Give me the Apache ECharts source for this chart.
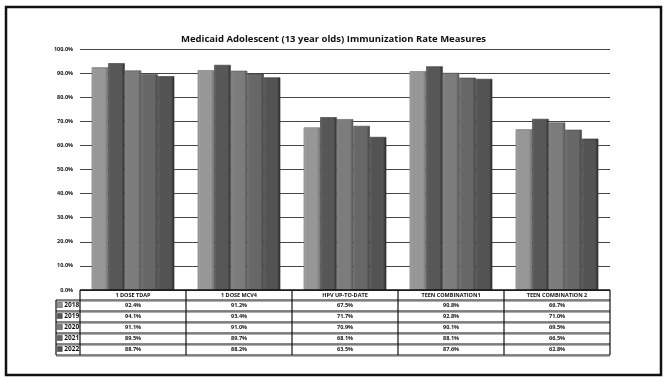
<!DOCTYPE html>
<html>
<head>
<meta charset="utf-8">
<script src="https://cdn.jsdelivr.net/npm/echarts@6/dist/echarts.min.js"></script>
<style>
  html, body { margin: 0; padding: 0; background: #ffffff; }
  #chart { width: 667px; height: 378px; }
</style>
</head>
<body>
<div id="chart"></div>
<script>
// Measures and yearly rates (percent)
const categories = ['1 DOSE TDAP', '1 DOSE MCV4', 'HPV UP-TO-DATE', 'TEEN COMBINATION1', 'TEEN COMBINATION 2'];
const years = ['2018', '2019', '2020', '2021', '2022'];
const rate2018 = [92.4, 91.2, 67.5, 90.8, 66.7];
const rate2019 = [94.1, 93.4, 71.7, 92.8, 71.0];
const rate2020 = [91.1, 91.0, 70.9, 90.1, 69.5];
const rate2021 = [89.5, 89.7, 68.1, 88.1, 66.5];
const rate2022 = [88.7, 88.2, 63.5, 87.6, 62.8];
const yTicks = [0, 10, 20, 30, 40, 50, 60, 70, 80, 90, 100];

const rates = [rate2018, rate2019, rate2020, rate2021, rate2022];
const baseColors = ['#979797', '#575757', '#7c7c7c', '#676767', '#535353'];

function shade(hex, amt) {
  const n = parseInt(hex.slice(1), 16);
  const c = [(n >> 16) & 255, (n >> 8) & 255, n & 255].map(v => Math.max(0, Math.min(255, v + amt)));
  return 'rgb(' + c.join(',') + ')';
}

const font = '"Open Sans", "DejaVu Sans", sans-serif';
const gridLeft = 80, gridRight = 57, gridTop = 49, gridBottom = 88;
const plotRight = 667 - gridRight;
const plotBottom = 378 - gridBottom;
const headerH = 10, rowH = 11;

const chart = echarts.init(document.getElementById('chart'), null, { renderer: 'canvas' });

const series = years.map((y, i) => ({
  name: y,
  type: 'bar',
  data: rates[i],
  barGap: '0%',
  barCategoryGap: '22%',
  itemStyle: {
    color: new echarts.graphic.LinearGradient(0, 0, 1, 0, [
      { offset: 0, color: shade(baseColors[i], 20) },
      { offset: 0.15, color: baseColors[i] },
      { offset: 0.8, color: baseColors[i] },
      { offset: 1, color: shade(baseColors[i], -40) }
    ]),
    borderColor: shade(baseColors[i], -35),
    borderWidth: 0.6
  }
}));

// one legend entry per table row
const legends = years.map((y, i) => ({
  data: [{ name: y, itemStyle: { color: baseColors[i], borderColor: '#333', borderWidth: 0.5 } }],
  orient: 'vertical',
  left: 57,
  top: plotBottom + headerH + i * rowH + 1.5,
  padding: 0,
  itemWidth: 5,
  itemHeight: 5,
  icon: 'rect',
  selectedMode: false,
  textStyle: { fontFamily: font, fontSize: 6.5, fontWeight: 'bold', color: '#111', padding: [0, 0, 0, -3] }
}));

// table lines under the plot
const tableLines = [];
const tableBottom = plotBottom + headerH + rowH * years.length;
const colW = (plotRight - gridLeft) / categories.length;
for (let c = 0; c <= categories.length; c++) {
  const x = gridLeft + c * colW;
  tableLines.push({ type: 'line', shape: { x1: x, y1: plotBottom, x2: x, y2: tableBottom }, style: { stroke: '#111', lineWidth: 1.2 }, z: 20 });
}
tableLines.push({ type: 'line', shape: { x1: 56, y1: plotBottom + headerH, x2: 56, y2: tableBottom }, style: { stroke: '#111', lineWidth: 1.2 }, z: 20 });
tableLines.push({ type: 'line', shape: { x1: gridLeft, y1: plotBottom, x2: plotRight, y2: plotBottom }, style: { stroke: '#111', lineWidth: 1.5 }, z: 20 });
for (let r = 0; r <= years.length; r++) {
  const y = plotBottom + headerH + r * rowH;
  tableLines.push({ type: 'line', shape: { x1: 56, y1: y, x2: plotRight, y2: y }, style: { stroke: '#111', lineWidth: 1.2 }, z: 20 });
  tableLines.push({ type: 'line', shape: { x1: 56, y1: y + 1.3, x2: plotRight, y2: y + 1.3 }, style: { stroke: '#9a9a9a', lineWidth: 1 }, z: 19 });
}

chart.setOption({
  backgroundColor: '#ffffff',
  animation: false,
  title: {
    text: 'Medicaid Adolescent (13 year olds) Immunization Rate Measures',
    left: 'center',
    top: 29,
    textStyle: { fontFamily: font, fontSize: 9.5, fontWeight: 'bold', color: '#111' }
  },
  legend: legends,
  grid: { left: gridLeft, right: gridRight, top: gridTop, bottom: gridBottom, containLabel: false },
  xAxis: {
    type: 'category',
    data: categories,
    axisLine: { show: false },
    axisTick: { show: false },
    axisLabel: {
      interval: 0,
      margin: 0,
      formatter: (val, idx) => ['{h|' + val + '}'].concat(rates.map(s => '{v|' + s[idx].toFixed(1) + '%}')).join('\n'),
      rich: {
        h: { fontFamily: font, fontSize: 5.5, fontWeight: 'bold', color: '#111', lineHeight: headerH },
        v: { fontFamily: font, fontSize: 5.5, fontWeight: 'bold', color: '#111', lineHeight: rowH }
      }
    }
  },
  yAxis: {
    type: 'value',
    min: yTicks[0],
    max: yTicks[yTicks.length - 1],
    interval: yTicks[1] - yTicks[0],
    axisLine: { show: false },
    axisTick: { show: false },
    axisLabel: {
      margin: 7,
      formatter: v => v.toFixed(1) + '%',
      fontFamily: font, fontSize: 5.5, fontWeight: 'bold', color: '#111'
    },
    splitLine: { lineStyle: { color: '#444', width: 1 } }
  },
  graphic: [
    { type: 'rect', shape: { x: 6, y: 7, width: 655, height: 368 }, style: { fill: 'none', stroke: '#111', lineWidth: 2.5 }, z: 30 }
  ].concat(tableLines),
  series: series
});
</script>
</body>
</html>
